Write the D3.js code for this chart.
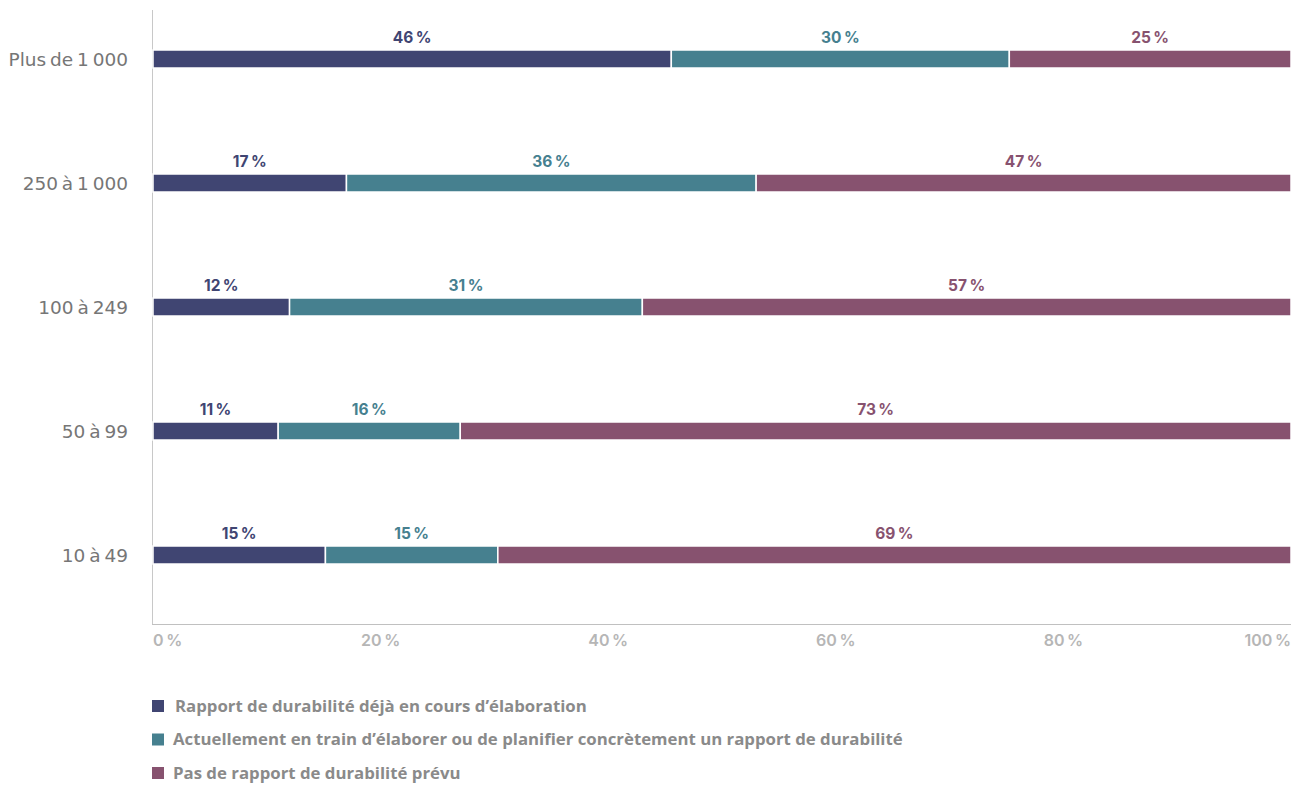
<!DOCTYPE html>
<html>
<head>
<meta charset="utf-8">
<script src="https://cdn.jsdelivr.net/npm/d3@7"></script>
<style>
  html, body { margin: 0; padding: 0; background: #fff; }
  svg { display: block; }
</style>
</head>
<body>
<svg id="chart" width="1305" height="785"></svg>
<script>
// Company size classes (number of employees)
const categories = ["Plus de 1 000", "250 à 1 000", "100 à 249", "50 à 99", "10 à 49"];
// Share of companies per status, in %
const dejaEnCours = [46, 17, 12, 11, 15];
const enTrain = [30, 36, 31, 16, 15];
const pasPrevu = [25, 47, 57, 73, 69];
const seriesNames = [
  "Rapport de durabilité déjà en cours d’élaboration",
  "Actuellement en train d’élaborer ou de planifier concrètement un rapport de durabilité",
  "Pas de rapport de durabilité prévu"
];
const xTicks = [0, 20, 40, 60, 80, 100];

const colors = ["#404572", "#46808f", "#87526f"];
const keys = ["a", "b", "c"];

const rows = categories.map((c, i) => ({ cat: c, a: dejaEnCours[i], b: enTrain[i], c: pasPrevu[i] }));
// Each row is normalised to its total so the bar spans the full width
const stacked = d3.stack().keys(keys).offset(d3.stackOffsetExpand)(rows);

const svg = d3.select("#chart");
const x = d3.scaleLinear().domain([0, 1]).range([153, 1291]);
const y = d3.scalePoint().domain(categories).range([59, 555]);
const barH = 18;

// Axis lines
svg.append("line").attr("x1", 152.5).attr("x2", 152.5).attr("y1", 10).attr("y2", 624)
  .attr("stroke", "#c8c8c8").attr("stroke-width", 1);
svg.append("line").attr("x1", 152).attr("x2", 1291).attr("y1", 624.5).attr("y2", 624.5)
  .attr("stroke", "#c0c0c0").attr("stroke-width", 1);

// Category labels
svg.append("g").selectAll("text").data(categories).join("text")
  .attr("x", 128).attr("y", d => y(d)).attr("dy", "0.36em")
  .attr("text-anchor", "end")
  .attr("font-family", "DejaVu Sans, sans-serif")
  .attr("font-weight", 400).attr("font-size", 18.5).attr("fill", "#767676")
  .attr("word-spacing", -2)
  .text(d => d);

// Bars
const groups = svg.append("g").selectAll("g").data(stacked).join("g")
  .attr("fill", (d, i) => colors[i]);
groups.selectAll("rect").data(d => d).join("rect")
  .attr("x", d => x(d[0]))
  .attr("width", d => x(d[1]) - x(d[0]))
  .attr("y", d => y(d.data.cat) - barH / 2)
  .attr("height", barH)
  .attr("stroke", "#fff").attr("stroke-width", 1.5);

// Value labels above each segment
groups.each(function(s, i) {
  d3.select(this).selectAll("text").data(s).join("text")
    .attr("x", d => (x(d[0]) + x(d[1])) / 2)
    .attr("y", d => y(d.data.cat) - barH / 2 - 7)
    .attr("text-anchor", "middle")
    .attr("font-family", "Inter, sans-serif")
    .attr("font-weight", 700).attr("font-size", 15.5)
    .attr("fill", colors[i])
    .text(d => d.data[s.key] + "\u202F%");
});

// X tick labels
svg.append("g").selectAll("text").data(xTicks).join("text")
  .attr("x", d => x(d / 100))
  .attr("y", 646)
  .attr("text-anchor", (d, i) => i === 0 ? "start" : (i === xTicks.length - 1 ? "end" : "middle"))
  .attr("font-family", "Inter, sans-serif")
  .attr("font-weight", 600).attr("font-size", 16).attr("fill", "#b6b6b6")
  .text(d => d + "\u202F%");

// Legend
const legend = svg.append("g").selectAll("g").data(seriesNames).join("g")
  .attr("transform", (d, i) => `translate(152, ${706 + i * 33.5})`);
legend.append("rect").attr("x", 0).attr("y", -6).attr("width", 12).attr("height", 12)
  .attr("fill", (d, i) => colors[i]);
legend.append("text").attr("x", (d, i) => i === 0 ? 23 : 21).attr("y", 0).attr("dy", "0.35em")
  .attr("font-family", "Open Sans, sans-serif")
  .attr("font-weight", 700).attr("font-size", 16.8).attr("fill", "#8a8a8a")
  .text(d => d);
</script>
</body>
</html>
